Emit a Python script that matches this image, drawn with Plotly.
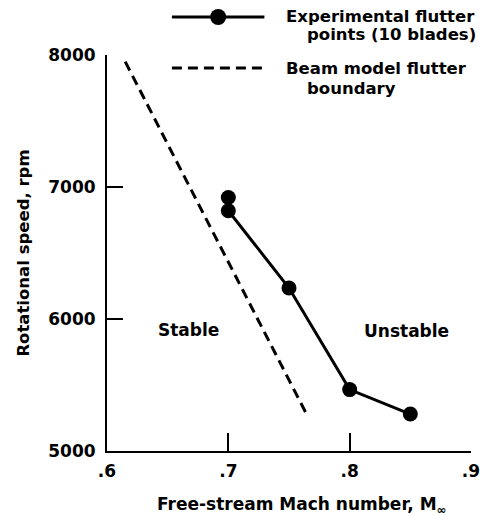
import plotly.graph_objects as go

# Experimental flutter points (10 blades)
mach_exp = [0.70, 0.70, 0.75, 0.80, 0.85]
rpm_exp = [6920, 6820, 6235, 5465, 5280]

# Beam model flutter boundary
mach_beam = [0.615, 0.765]
rpm_beam = [7950, 5270]

x_ticks = [0.6, 0.7, 0.8, 0.9]
x_ticktext = [".6", ".7", ".8", ".9"]
y_ticks = [5000, 6000, 7000, 8000]
y_ticktext = ["5000", "6000", "7000", "8000"]

FONT = "DejaVu Sans, Liberation Sans, Arial, sans-serif"
INK = "black"
FS = 17

fig = go.Figure()

fig.add_trace(go.Scatter(
    x=mach_beam, y=rpm_beam, mode="lines",
    line=dict(color=INK, width=3, dash="10px,6px"),
    showlegend=False, hoverinfo="skip",
))
fig.add_trace(go.Scatter(
    x=mach_exp, y=rpm_exp, mode="lines+markers",
    line=dict(color=INK, width=3),
    marker=dict(color=INK, size=15),
    showlegend=False,
))

# Region labels
fig.add_annotation(x=0.667, y=5915, text="Stable", showarrow=False,
                   xref="x", yref="y", font=dict(size=FS))
fig.add_annotation(x=0.847, y=5910, text="Unstable", showarrow=False,
                   xref="x", yref="y", font=dict(size=FS))

# Hand-built legend above the plot area
L, T, W, H = 107, 55, 370, 396


def px_x(p):
    return (p - L) / W


def px_y(p):
    return 1 + (T - p) / H


fig.add_shape(type="line", xref="paper", yref="paper",
              x0=px_x(173), x1=px_x(267), y0=px_y(17), y1=px_y(17),
              line=dict(color=INK, width=3))
fig.add_shape(type="circle", xref="paper", yref="paper",
              xsizemode="pixel", ysizemode="pixel",
              xanchor=px_x(220), yanchor=px_y(17),
              x0=-8, x1=8, y0=-8, y1=8,
              fillcolor=INK, line=dict(color=INK, width=0))
fig.add_shape(type="line", xref="paper", yref="paper",
              x0=px_x(173), x1=px_x(267), y0=px_y(68), y1=px_y(68),
              line=dict(color=INK, width=3, dash="10px,6px"))

legend_lines = [
    ("Experimental flutter", 287, 16),
    ("points (10 blades)", 308, 35),
    ("Beam model flutter", 287, 68),
    ("boundary", 308, 88),
]
for txt, xp, yp in legend_lines:
    fig.add_annotation(x=px_x(xp), y=px_y(yp), xref="paper", yref="paper",
                       text=txt, showarrow=False, xanchor="left",
                       yanchor="middle", font=dict(size=FS - 0.5),
                       height=17, valign="middle")

# x-axis title, placed under the tick labels
fig.add_annotation(x=px_x(305), y=px_y(505), xref="paper", yref="paper",
                   text="Free-stream Mach number, M<sub>∞</sub>",
                   showarrow=False, xanchor="center", yanchor="middle",
                   font=dict(size=FS))

fig.update_layout(
    width=492, height=516,
    margin=dict(l=L, r=492 - L - W, t=T, b=516 - T - H),
    paper_bgcolor="white", plot_bgcolor="white",
    font=dict(family=FONT, size=FS, color=INK, weight="bold"),
    showlegend=False,
)
fig.update_xaxes(
    range=[0.6, 0.9], tickvals=x_ticks, ticktext=x_ticktext,
    showgrid=False, zeroline=False, showline=True, linecolor=INK, linewidth=2,
    ticks="inside", ticklen=18, tickwidth=2, tickcolor=INK,
    tickfont=dict(size=FS), ticklabelstandoff=4,
)
fig.update_yaxes(
    range=[5000, 8000], tickvals=y_ticks, ticktext=y_ticktext,
    showgrid=False, zeroline=False, showline=True, linecolor=INK, linewidth=2,
    ticks="inside", ticklen=16, tickwidth=2, tickcolor=INK,
    tickfont=dict(size=FS), ticklabelstandoff=6,
    title=dict(text="Rotational speed, rpm", standoff=14,
               font=dict(size=FS - 0.5)),
)

fig.write_html("out.html")
